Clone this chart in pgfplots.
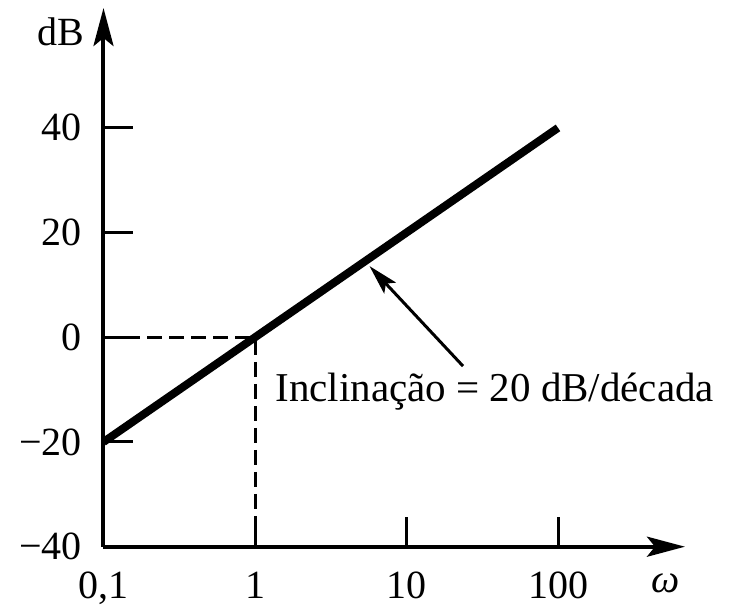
\documentclass[border=0pt]{standalone}
\usepackage{fontspec}
\setmainfont{Liberation Serif}
\usepackage{pgfplots}
\pgfplotsset{compat=1.18}
\usetikzlibrary{arrows.meta}

\begin{document}
\begin{tikzpicture}
% page frame, white background
\path[use as bounding box, fill=white] (-51.75bp,-33.15bp) rectangle (313.25bp,273.35bp);
\begin{axis}[
  at={(0,0)}, anchor=south west, scale only axis,
  width=290.75bp, height=269.35bp,
  xmode=log, xmin=0.1, xmax=689, ymin=-40, ymax=62.9,
  axis lines=left,
  axis line style={line width=2bp, -{Stealth[length=19bp,width=10bp,inset=4bp]}},
  xtick={0.1,1,10,100}, xticklabels={{0,1},1,10,100},
  xminorticks=false, yminorticks=false,
  ytick={-40,-20,0,20,40}, yticklabels={−40,−20,0,20,40},
  tick align=inside, major tick length=15bp,
  tick style={line width=1.5bp, black},
  tick label style={font=\fontsize{20bp}{24bp}\selectfont, inner sep=0pt},
  xticklabel style={anchor=north, yshift=-12.5bp},
  yticklabel style={anchor=east, xshift=-10.75bp},
  clip=false,
]
% asymptote: +20 dB per decade, 0 dB at omega = 1
\addplot[line width=4bp, black] coordinates {(0.1,-20) (1,0) (10,20) (100,40)};
% guide lines to the 0 dB crossing
\addplot[line width=1.5bp, black, dash pattern=on 7.5bp off 3.5bp]
  coordinates {(0.1,0) (1,0) (1,-40)};
% slope annotation
\draw[line width=1.5bp, -{Stealth[length=15bp,width=8bp,inset=3bp]}]
  (axis cs:23.6,-5.5) -- (axis cs:5.7,13.6);
\node[anchor=west, inner sep=0pt, font=\fontsize{20.5bp}{24bp}\selectfont]
  at (axis cs:1.355,-10.4) {Inclinação = 20 dB/década};
% axis names
\node[font=\fontsize{20bp}{24bp}\selectfont] at (axis cs:0.0524,58.4) {dB};
\node[font=\fontsize{20bp}{24bp}\selectfont\itshape] at (axis cs:516,-46.9) {ω};
\end{axis}
\end{tikzpicture}
\end{document}
